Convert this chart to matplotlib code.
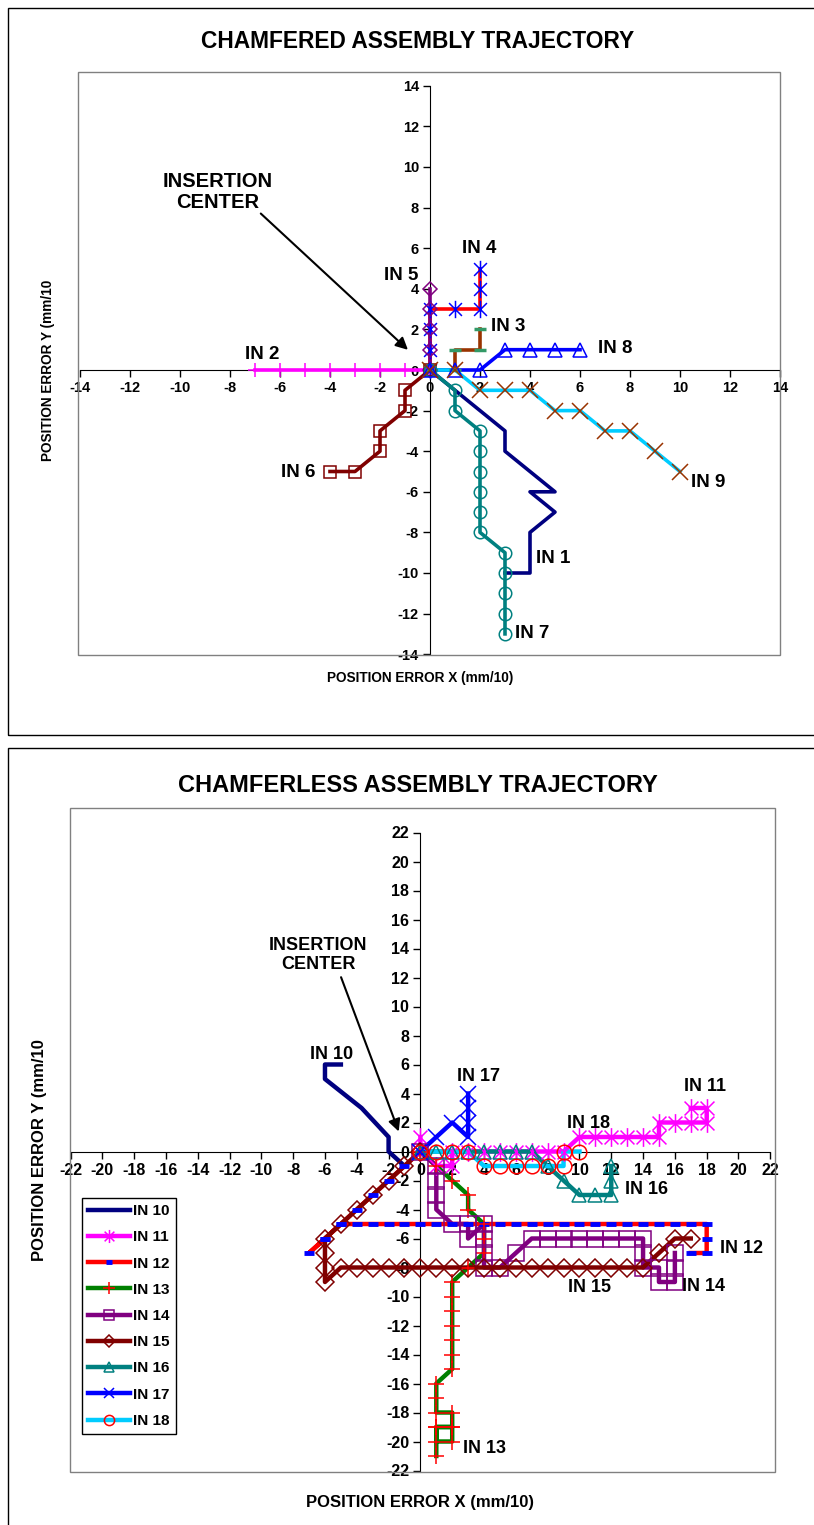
import matplotlib.pyplot as plt
from matplotlib.lines import Line2D
from matplotlib.patches import Rectangle
from matplotlib.path import Path

plt.rcParams['font.family'] = ['Liberation Sans', 'DejaVu Sans']
plt.rcParams['font.weight'] = 'bold'
plt.rcParams['axes.unicode_minus'] = False

W, H = 814, 1525

# ── Chamfered trajectories (mm/10) ───────────────────────────────────────────
in1_x = [0, 1, 2, 3, 3, 4, 5, 4, 5, 4, 4, 4, 3]
in1_y = [0, -1, -2, -3, -4, -5, -6, -6, -7, -8, -9, -10, -10]
in2_x = [0, -1, -2, -3, -4, -5, -6, -7]
in2_y = [0, 0, 0, 0, 0, 0, 0, 0]
in3_x = [0, 1, 1, 2, 2]
in3_y = [0, 0, 1, 1, 2]
in4_x = [0, 0, 0, 0, 1, 2, 2, 2]
in4_y = [0, 1, 2, 3, 3, 3, 4, 5]
in5_x = [0, 0, 0, 0, 0]
in5_y = [0, 1, 2, 3, 4]
in6_x = [0, -1, -1, -2, -2, -3, -4]
in6_y = [0, -1, -2, -3, -4, -5, -5]
in7_x = [0, 1, 1, 2, 2, 2, 2, 2, 2, 3, 3, 3, 3, 3]
in7_y = [0, -1, -2, -3, -4, -5, -6, -7, -8, -9, -10, -11, -12, -13]
in8_x = [0, 1, 2, 3, 4, 5, 6]
in8_y = [0, 0, 0, 1, 1, 1, 1]
in9_x = [0, 1, 2, 3, 4, 5, 6, 7, 8, 9, 10]
in9_y = [0, 0, -1, -1, -1, -2, -2, -3, -3, -4, -5]

# ── Chamferless trajectories (mm/10) ─────────────────────────────────────────
in10_x = [-5, -6, -6, -3.7, -2, -2, -1]
in10_y = [6, 6, 5, 3, 1, 0, -1]
in11_x = [0, 0, 1, 2, 2, 3, 4, 5, 6, 7, 8, 9, 10, 11, 12, 13, 14, 15, 15, 16, 17, 18, 18, 17]
in11_y = [1, 0, -1, -1, 0, 0, 0, 0, 0, 0, 0, 0, 1, 1, 1, 1, 1, 1, 2, 2, 2, 2, 3, 3]
in12_x = [0, -1, -2, -3, -4, -5, -6, -7, -6, -5, -4, -3, -2, -1, 0, 1, 2, 3, 4, 5, 6, 7,
          8, 9, 10, 11, 12, 13, 14, 15, 16, 17, 18, 18, 18, 17]
in12_y = [0, -1, -2, -3, -4, -5, -6, -7, -6, -5, -5, -5, -5, -5, -5, -5, -5, -5, -5, -5, -5, -5,
          -5, -5, -5, -5, -5, -5, -5, -5, -5, -5, -5, -6, -7, -7]
in13_x = [0, 1, 2, 3, 3, 4, 4, 4, 3, 2, 2, 2, 2, 2, 2, 2, 1, 1, 1, 2, 2, 2, 1, 1, 2, 1, 1]
in13_y = [0, -1, -2, -3, -4, -5, -6, -7, -8, -9, -10, -11, -12, -13, -14, -15, -16, -17, -18,
          -18, -19, -20, -20, -19, -19, -19, -21]
in14_x = [0, 1, 1, 1, 1, 2, 3, 3, 4, 4, 4, 4, 5, 6, 7, 8, 9, 10, 11, 12, 13, 14, 14, 14, 15, 15, 16, 16, 16]
in14_y = [0, -1, -2, -3, -4, -5, -5, -6, -5, -6, -7, -8, -8, -7, -6, -6, -6, -6, -6, -6, -6, -6, -7, -8, -8, -9, -9, -8, -7]
in15_x = [0, -1, -2, -3, -4, -5, -6, -6, -6, -6, -5, -4, -3, -2, -1, 0, 1, 2, 3, 4, 5, 6, 7,
          8, 9, 10, 11, 12, 13, 14, 15, 16, 17]
in15_y = [0, -1, -2, -3, -4, -5, -6, -7, -8, -9, -8, -8, -8, -8, -8, -8, -8, -8, -8, -8, -8, -8, -8,
          -8, -8, -8, -8, -8, -8, -8, -7, -6, -6]
in16_x = [0, 1, 2, 3, 4, 5, 6, 7, 8, 9, 10, 11, 12, 12, 12]
in16_y = [0, 0, 0, 0, 0, 0, 0, 0, -1, -2, -3, -3, -3, -2, -1]
in17_x = [0, 1, 2, 3, 3, 3, 3]
in17_y = [0, 1, 2, 1, 2, 3, 4]
in18_x = [0, 1, 2, 3, 4, 5, 6, 7, 8, 9, 9, 10]
in18_y = [0, 0, 0, 0, -1, -1, -1, -1, -1, -1, 0, 0]

NAVY, MAGENTA, RED, GREEN = '#000080', '#FF00FF', '#FF0000', '#008000'
PURPLE, DARKRED, TEAL, BLUE = '#800080', '#800000', '#008080', '#0000FF'
CYAN, BROWN, SEAGREEN = '#00CCFF', '#993300', '#339966'

# asterisk marker (x with a vertical bar), like Excel's star
STAR = Path([(-1, -1), (1, 1), (-1, 1), (1, -1), (0, -1.35), (0, 1.35)],
            [Path.MOVETO, Path.LINETO, Path.MOVETO, Path.LINETO, Path.MOVETO, Path.LINETO])


def mk(marker, color, ms, mew=1.1):
    return dict(marker=marker, mec=color, mfc='none', ms=ms, mew=mew)


top_series = [
    ('IN 1', in1_x, in1_y, NAVY, None),
    ('IN 2', in2_x, in2_y, MAGENTA, mk('+', MAGENTA, 10)),
    ('IN 3', in3_x, in3_y, BROWN, mk('_', SEAGREEN, 9, 2.5)),
    ('IN 4', in4_x, in4_y, RED, mk(STAR, BLUE, 12.5)),
    ('IN 5', in5_x, in5_y, PURPLE, mk('D', PURPLE, 7.5)),
    ('IN 6', in6_x, in6_y, DARKRED, mk('s', DARKRED, 9)),
    ('IN 7', in7_x, in7_y, TEAL, mk('o', TEAL, 9)),
    ('IN 8', in8_x, in8_y, BLUE, mk('^', BLUE, 9.5)),
    ('IN 9', in9_x, in9_y, CYAN, mk('x', BROWN, 11)),
]

bottom_series = [
    ('IN 10', in10_x, in10_y, NAVY, None),
    ('IN 11', in11_x, in11_y, MAGENTA, mk(STAR, MAGENTA, 13.5)),
    ('IN 12', in12_x, in12_y, RED, mk('_', BLUE, 7, 3.5)),
    ('IN 13', in13_x, in13_y, GREEN, mk('+', RED, 12)),
    ('IN 14', in14_x, in14_y, PURPLE, mk('s', PURPLE, 11)),
    ('IN 15', in15_x, in15_y, DARKRED, mk('D', DARKRED, 9)),
    ('IN 16', in16_x, in16_y, TEAL, mk('^', TEAL, 10.5)),
    ('IN 17', in17_x, in17_y, BLUE, mk('x', BLUE, 11)),
    ('IN 18', in18_x, in18_y, CYAN, mk('o', RED, 10.5)),
]


def px_rect(x0, y0, x1, y1):
    return [x0 / W, 1 - y1 / H, (x1 - x0) / W, (y1 - y0) / H]


def frame(x0, y0, x1, y1, color):
    fig.add_artist(Rectangle((x0 / W, 1 - y1 / H), (x1 - x0) / W, (y1 - y0) / H,
                             transform=fig.transFigure, fill=False,
                             edgecolor=color, linewidth=1))


def setup(ax, lim, labelsize):
    ax.set_xlim(-lim, lim)
    ax.set_ylim(-lim, lim)
    ax.patch.set_visible(False)
    for s in ['top', 'right']:
        ax.spines[s].set_visible(False)
    for s in ['left', 'bottom']:
        ax.spines[s].set_position(('data', 0))
        ax.spines[s].set_zorder(1)
    ticks = list(range(-lim, lim + 1, 2))
    ax.set_xticks(ticks)
    ax.set_yticks(ticks)
    ax.tick_params(labelsize=labelsize, length=5, width=1, direction='out', pad=3)


def draw(ax, series, lw):
    # Excel draws every line first, then the markers on top
    for _, x, y, color, _m in series:
        ax.plot(x, y, color=color, lw=lw, zorder=2, clip_on=False)
    for _, x, y, color, m in series:
        if m:
            ax.plot(x, y, ls='none', zorder=3, clip_on=False, **m)


fig = plt.figure(figsize=(W / 100, H / 100), dpi=100)

# ── Top chart ────────────────────────────────────────────────────────────────
frame(8, 8, 830, 735, 'black')
frame(78, 72, 780, 655, '#808080')
ax1 = fig.add_axes(px_rect(80, 85.8, 780, 654.2))
setup(ax1, 14, 10.5)
draw(ax1, top_series, 2.6)

top_labels = [('IN 4', 1.97, 6.0), ('IN 5', -1.17, 4.65), ('IN 3', 3.13, 2.12),
              ('IN 8', 7.4, 1.08), ('IN 2', -6.7, 0.74), ('IN 6', -5.27, -5.06),
              ('IN 1', 4.93, -9.31), ('IN 7', 4.07, -12.99), ('IN 9', 11.12, -5.52)]
for s, x, y in top_labels:
    ax1.text(x, y, s, ha='center', va='center', fontsize=13.5)
ax1.text(-8.48, 8.77, 'INSERTION\nCENTER', ha='center', va='center', fontsize=14.5,
         linespacing=1.1)
ax1.annotate('', xy=(-0.8, 0.9), xytext=(-6.85, 7.8),
             arrowprops=dict(arrowstyle='-|>', color='black', lw=1.5, mutation_scale=18))

fig.text(418 / W, 1 - 42 / H, 'CHAMFERED ASSEMBLY TRAJECTORY', ha='center', va='center',
         fontsize=16.4)
fig.text(420 / W, 1 - 678 / H, 'POSITION ERROR X (mm/10)', ha='center', va='center',
         fontsize=9.8)
fig.text(48 / W, 1 - 370 / H, 'POSITION ERROR Y (mm/10', ha='center', va='center',
         rotation=90, fontsize=9.8)

# ── Bottom chart ─────────────────────────────────────────────────────────────
frame(8, 748, 830, 1540, 'black')
frame(70, 808, 775, 1472, '#808080')
ax2 = fig.add_axes(px_rect(70.5, 832.5, 770.3, 1470.5))
setup(ax2, 22, 11.5)
draw(ax2, bottom_series, 3.2)

bottom_labels = [('IN 10', -5.57, 6.7), ('IN 17', 3.67, 5.16), ('IN 11', 17.9, 4.5),
                 ('IN 18', 10.6, 1.95), ('IN 16', 14.2, -2.65), ('IN 12', 20.2, -6.68),
                 ('IN 15', 10.65, -9.35), ('IN 14', 17.8, -9.3), ('IN 13', 4.04, -20.5)]
for s, x, y in bottom_labels:
    ax2.text(x, y, s, ha='center', va='center', fontsize=13)
ax2.text(-6.43, 13.55, 'INSERTION\nCENTER', ha='center', va='center', fontsize=13,
         linespacing=1.2)
ax2.annotate('', xy=(-1.3, 1.2), xytext=(-5.05, 12.2),
             arrowprops=dict(arrowstyle='-|>', color='black', lw=1.5, mutation_scale=18))

handles = [Line2D([], [], color=c, lw=3.2, **(m or {})) for _, _, _, c, m in bottom_series]
leg = ax2.legend(handles, [s[0] for s in bottom_series], loc='upper left',
                 bbox_to_anchor=(82 / W, 1 - 1198 / H), bbox_transform=fig.transFigure,
                 fontsize=11, handlelength=2.75, handletextpad=0.2, labelspacing=0.8,
                 borderpad=0.4, borderaxespad=0, fancybox=False, edgecolor='black',
                 numpoints=1, framealpha=1, markerscale=0.7)
leg.get_frame().set_linewidth(1)

fig.text(418 / W, 1 - 786 / H, 'CHAMFERLESS ASSEMBLY TRAJECTORY', ha='center', va='center',
         fontsize=17)
fig.text(420 / W, 1 - 1502 / H, 'POSITION ERROR X (mm/10)', ha='center', va='center',
         fontsize=12)
fig.text(40 / W, 1 - 1150 / H, 'POSITION ERROR Y (mm/10', ha='center', va='center',
         rotation=90, fontsize=12)

fig.savefig('out.png', dpi=100)
